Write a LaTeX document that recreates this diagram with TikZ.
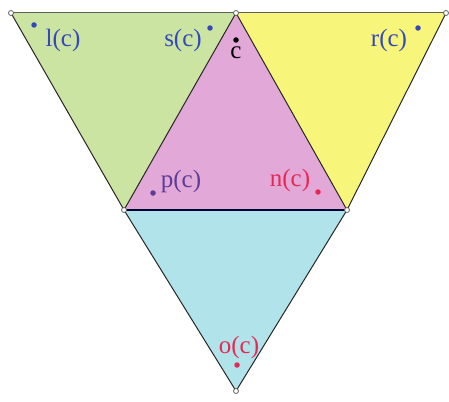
\documentclass[tikz,border=0pt]{standalone}
\usepackage{fontspec}
\setmainfont{Liberation Serif}
\usetikzlibrary{positioning}
\definecolor{leafgreen}{RGB}{204,228,162}
\definecolor{lemon}{RGB}{248,246,122}
\definecolor{orchid}{RGB}{226,168,216}
\definecolor{skyblue}{RGB}{176,228,234}
\definecolor{inkblue}{RGB}{52,72,188}
\definecolor{inkviolet}{RGB}{92,60,150}
\definecolor{inkred}{RGB}{232,40,84}
\definecolor{edgegrey}{RGB}{95,95,95}
\tikzset{vertex/.style={circle, draw=edgegrey, fill=white, inner sep=0pt, minimum size=5pt, line width=0.8pt},
spot/.style={circle, fill, inner sep=0pt, minimum size=5.5pt},
tag/.style={font=\fontsize{25}{25}\selectfont, inner sep=0pt},
side/.style={draw=edgegrey, line width=1pt},
}

\begin{document}
\begin{tikzpicture}[x=1pt, y=-1pt]
            \useasboundingbox (0,0) rectangle (449,401);
            \coordinate (tl) at (11,13);
            \coordinate (tm) at (236,13);
            \coordinate (tr) at (446,13);
            \coordinate (lm) at (124,210);
            \coordinate (rm) at (347,210);
            \coordinate (bt) at (236,391);

            \fill[leafgreen] (tl) -- (tm) -- (lm) -- cycle;
            \fill[lemon] (tm) -- (tr) -- (rm) -- cycle;
            \fill[orchid] (tm) -- (rm) -- (lm) -- cycle;
            \fill[skyblue] (lm) -- (rm) -- (bt) -- cycle;

            \draw[side] (tl) -- (tr);
            \draw[side, draw=black!85] (tl) -- (lm) -- (bt) -- (rm) -- (tr);
            \draw[side, draw=black!85] (lm) -- (tm) -- (rm);
            \draw[side, draw=black!80!blue, line width=1.6pt] (lm) -- (rm);

            \foreach \v in {tl, tm, tr, lm, rm, bt}
                \node[vertex] at (\v) {};

            % labels
            \node[spot, inkblue] (ldot) at (34,25) {};
            \node[tag, inkblue] (lc) at (63,40) {l(c)};
            \node[spot, inkblue] (sdot) at (210,28) {};
            \node[tag, inkblue] (sc) at (183,40) {s(c)};
            \node[spot, black] (cdot) at (236,40) {};
            \node[tag, black, below=4pt of cdot] (cc) {c};
            \node[spot, inkblue] (rdot) at (418,28) {};
            \node[tag, inkblue] (rc) at (389,40) {r(c)};
            \node[spot, inkviolet] (pdot) at (153,193) {};
            \node[tag, inkviolet] (pc) at (181,181) {p(c)};
            \node[spot, inkred] (ndot) at (318,192) {};
            \node[tag, inkred] (nc) at (290,180) {n(c)};
            \node[spot, inkred] (odot) at (237,365) {};
            \node[tag, inkred] (oc) at (239,347) {o(c)};
        \end{tikzpicture}
\end{document}
